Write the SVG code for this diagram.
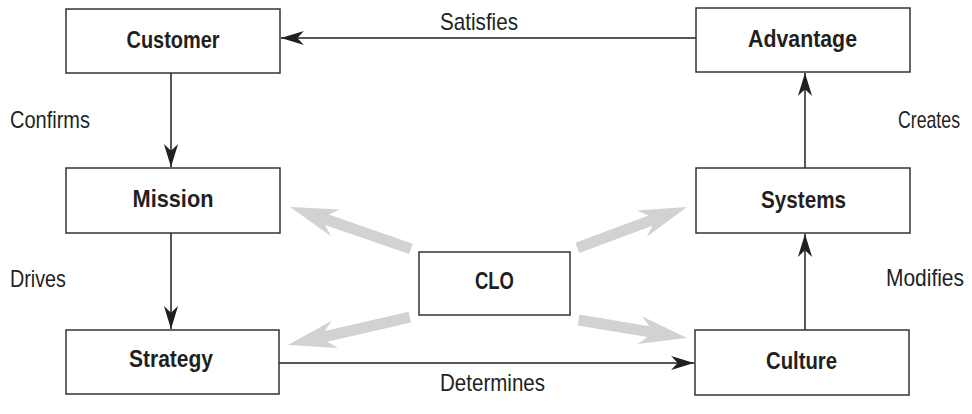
<svg xmlns="http://www.w3.org/2000/svg" width="972" height="414" viewBox="0 0 972 414">
<style>
.box{fill:#fff;stroke:#333;stroke-width:1.5}
.lbl{font-family:"Liberation Sans",Arial,sans-serif;font-size:24px;font-weight:bold;fill:#231f20;text-anchor:middle}
.rel{font-family:"Liberation Sans",Arial,sans-serif;font-size:24px;fill:#231f20}
.con{stroke:#231f20;stroke-width:1.5;fill:none;marker-end:url(#ah)}
.big{fill:#d1d2d4}
</style>
<defs>
<marker id="ah" markerUnits="userSpaceOnUse" markerWidth="24" markerHeight="16" viewBox="-21 -7 22 14" refX="0" refY="0" orient="auto">
<path d="M0,0 L-21,-6.5 L-15,0 L-21,6.5 Z" fill="#231f20"/>
</marker>
</defs>
<g id="connectors">
<line class="con" x1="696" y1="38" x2="281" y2="38"/>
<line class="con" x1="171" y1="73" x2="171" y2="167"/>
<line class="con" x1="171" y1="233" x2="171" y2="329"/>
<line class="con" x1="279" y1="363" x2="694" y2="363"/>
<line class="con" x1="805" y1="330" x2="805" y2="234"/>
<line class="con" x1="805" y1="168" x2="805" y2="73"/>
<g class="big">
<polygon transform="translate(290,207) rotate(199.1)" points="-128,-5.5 -39,-5.5 -48,-14 0,0 -48,14 -39,5.5 -128,5.5" />
<polygon transform="translate(687,207) rotate(-20.4)" points="-117,-5.5 -39,-5.5 -48,-14 0,0 -48,14 -39,5.5 -117,5.5" />
<polygon transform="translate(288,345) rotate(167.1)" points="-125,-5.5 -39,-5.5 -48,-14 0,0 -48,14 -39,5.5 -125,5.5" />
<polygon transform="translate(687,338) rotate(9.4)" points="-110,-5.5 -39,-5.5 -48,-14 0,0 -48,14 -39,5.5 -110,5.5" />
</g>
<text class="rel" x="440" y="30" textLength="78" lengthAdjust="spacingAndGlyphs">Satisfies</text>
<text class="rel" x="10" y="128" textLength="80" lengthAdjust="spacingAndGlyphs">Confirms</text>
<text class="rel" x="10" y="287" textLength="56" lengthAdjust="spacingAndGlyphs">Drives</text>
<text class="rel" x="440" y="391" textLength="105" lengthAdjust="spacingAndGlyphs">Determines</text>
<text class="rel" transform="translate(898,128) scale(0.8,1)" x="0" y="0" textLength="77.5" lengthAdjust="spacingAndGlyphs">Creates</text>
<text class="rel" transform="translate(886,286) scale(0.8,1)" x="0" y="0" textLength="97.5" lengthAdjust="spacingAndGlyphs">Modifies</text>
</g>
<g id="customer"><rect class="box" x="66" y="9" width="214" height="64"/><text class="lbl" x="173" y="48" textLength="93" lengthAdjust="spacingAndGlyphs">Customer</text></g>
<g id="mission"><rect class="box" x="66" y="168" width="214" height="65"/><text class="lbl" x="173" y="207" textLength="81" lengthAdjust="spacingAndGlyphs">Mission</text></g>
<g id="strategy"><rect class="box" x="66" y="330" width="213" height="64"/><text class="lbl" x="171" y="367" textLength="84" lengthAdjust="spacingAndGlyphs">Strategy</text></g>
<g id="clo"><rect class="box" x="419" y="252" width="151" height="63"/><text class="lbl" x="494.5" y="289" textLength="39" lengthAdjust="spacingAndGlyphs">CLO</text></g>
<g id="advantage"><rect class="box" x="696" y="8" width="214" height="64"/><text class="lbl" x="802.5" y="47" textLength="109" lengthAdjust="spacingAndGlyphs">Advantage</text></g>
<g id="systems"><rect class="box" x="696" y="168" width="214" height="65"/><text class="lbl" x="803.5" y="208" textLength="85" lengthAdjust="spacingAndGlyphs">Systems</text></g>
<g id="culture"><rect class="box" x="695" y="330" width="214" height="65"/><text class="lbl" x="801.5" y="369" textLength="71" lengthAdjust="spacingAndGlyphs">Culture</text></g>
</svg>
